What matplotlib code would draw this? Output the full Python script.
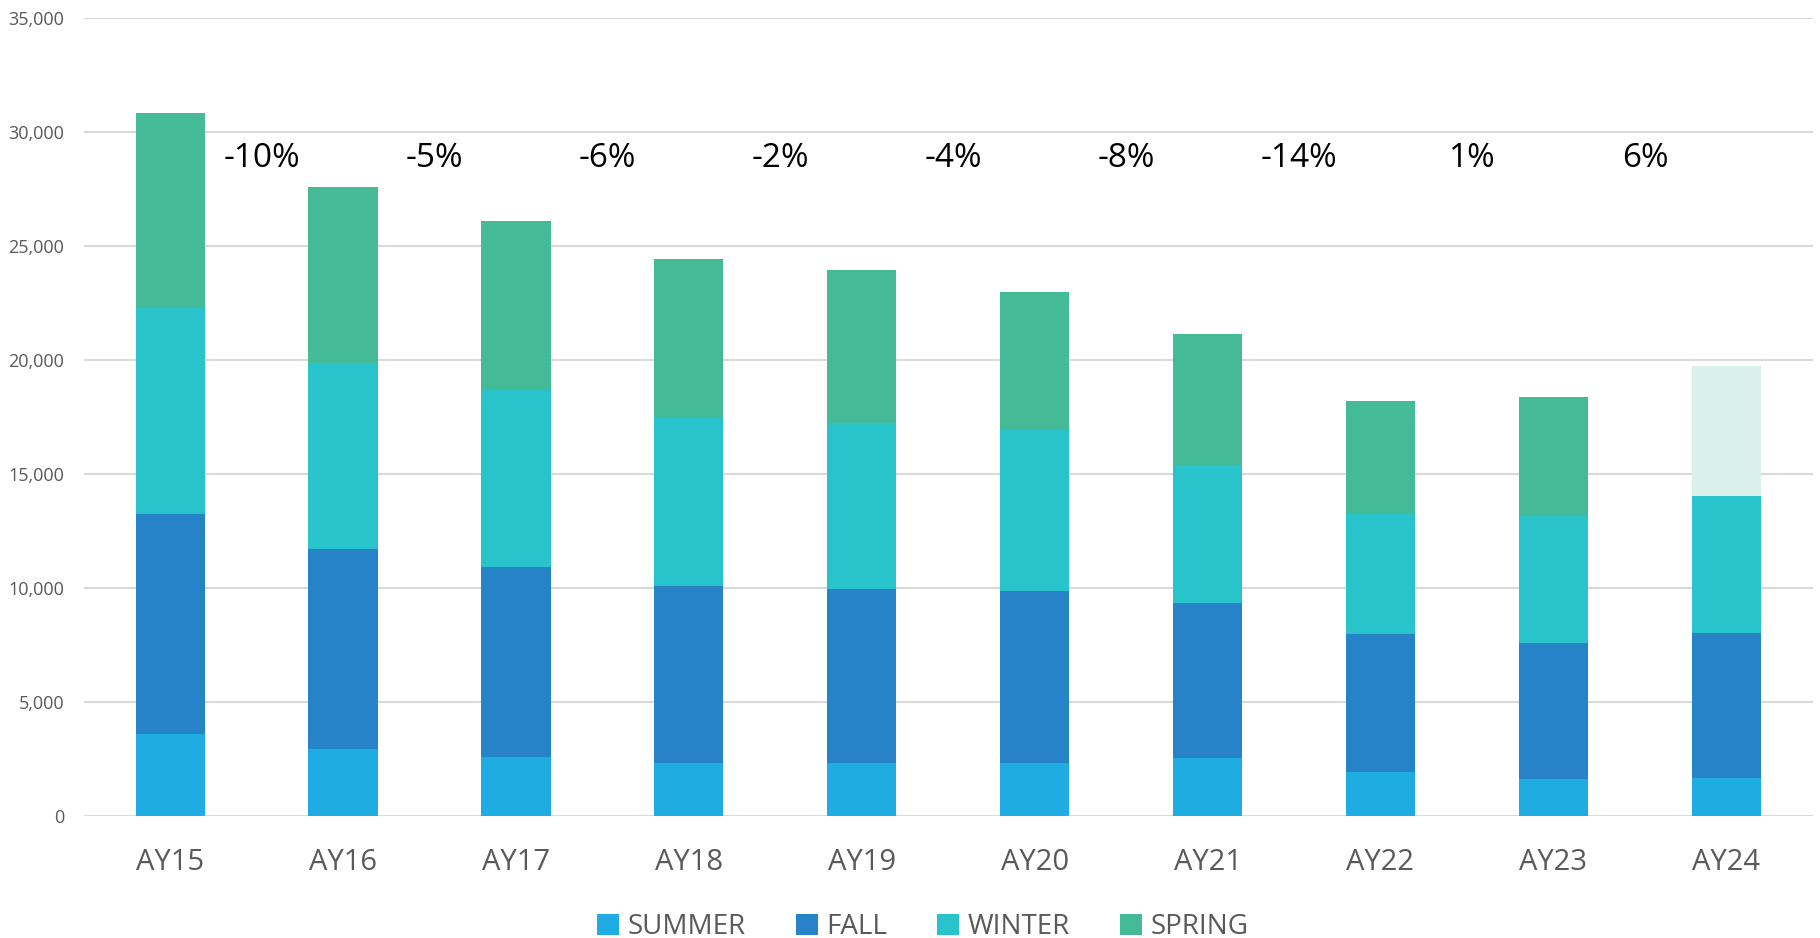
import matplotlib.pyplot as plt
import numpy as np
from matplotlib.ticker import FuncFormatter
from matplotlib.patches import Patch

plt.rcParams['font.family'] = ['Open Sans', 'DejaVu Sans']

# academic years and term values
years = ['AY15', 'AY16', 'AY17', 'AY18', 'AY19', 'AY20', 'AY21', 'AY22', 'AY23', 'AY24']
summer = [3580, 2960, 2570, 2320, 2320, 2320, 2540, 1920, 1610, 1690]
fall = [9650, 8750, 8340, 7770, 7650, 7550, 6800, 6050, 5970, 6350]
winter = [9050, 8160, 7820, 7350, 7250, 7050, 6070, 5260, 5560, 5990]
spring = [8540, 7730, 7370, 6990, 6730, 6080, 5720, 4960, 5240, 5700]
changes = ['-10%', '-5%', '-6%', '-2%', '-4%', '-8%', '-14%', '1%', '6%']

colors = {'SUMMER': '#1EACE2', 'FALL': '#2783C7', 'WINTER': '#28C3CB', 'SPRING': '#44BA96'}
spring_light = '#DAF0EA'  # AY24 spring still in progress

fig = plt.figure(figsize=(18.2, 9.38), dpi=100)
ax = fig.add_axes([0.046, 0.130, 0.950, 0.851])

x = np.arange(len(years))
w = 0.40
s = np.array(summer)
f = np.array(fall)
wi = np.array(winter)
sp = np.array(spring)

ax.bar(x, s, w, color=colors['SUMMER'], zorder=3)
ax.bar(x, f, w, bottom=s, color=colors['FALL'], zorder=3)
ax.bar(x, wi, w, bottom=s + f, color=colors['WINTER'], zorder=3)
sp_colors = [colors['SPRING']] * (len(years) - 1) + [spring_light]
ax.bar(x, sp, w, bottom=s + f + wi, color=sp_colors, zorder=3)

# year-over-year change labels between the bars
for i, lab in enumerate(changes):
    ax.text(i + 0.5 + 0.03, 28850, lab, ha='center', va='center', fontsize=24, color='black')

ax.set_xlim(-0.5, len(years) - 0.5)
ax.set_ylim(0, 35000)
ax.set_yticks(np.arange(0, 35001, 5000))
ax.yaxis.set_major_formatter(FuncFormatter(lambda v, p: f'{int(v):,}'))
ax.set_xticks(x)
ax.set_xticklabels(years)
ax.tick_params(axis='x', length=0, pad=23, labelsize=21, labelcolor='#595959')
ax.tick_params(axis='y', length=0, pad=14, labelsize=13, labelcolor='#595959')
ax.grid(axis='y', color='#D9D9D9', linewidth=1.5, zorder=0)
for sp_name in ax.spines:
    ax.spines[sp_name].set_visible(False)

handles = [Patch(facecolor=c, label=k) for k, c in colors.items()]
fig.legend(handles=handles, loc='lower center', bbox_to_anchor=(0.507, -0.03), ncol=4,
           frameon=False, fontsize=20, handlelength=0.8, handleheight=0.8,
           handletextpad=0.3, columnspacing=1.8, labelcolor='#595959')

fig.savefig('out.png', dpi=100)
